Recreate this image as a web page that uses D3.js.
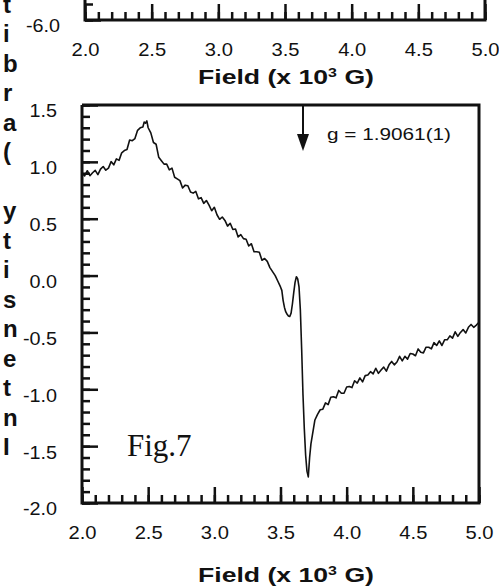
<!DOCTYPE html>
<html>
<head>
<meta charset="utf-8">
<script src="https://cdn.jsdelivr.net/npm/d3@7"></script>
<style>
  body { margin: 0; background: #fff; }
  svg { display: block; }
</style>
</head>
<body>
<div class="box"></div>
<script>
// DATA

const fieldTicks = [2.0, 2.5, 3.0, 3.5, 4.0, 4.5, 5.0];
const intensityTicks = [-2.0, -1.5, -1.0, -0.5, 0.0, 0.5, 1.0, 1.5];
const upperPanelTicks = [-6.0];
const titleParts = ['Field (x 10', '3', ' G)'];
const yLabel = 'Intensity (arbit';
const gLabel = 'g = 1.9061(1)';
const gField = 3.67;
const figLabel = 'Fig.7';

// EPR trace [field (x10^3 G), intensity]
const spectrum = [
  [2.00,0.900],[2.02,0.876],[2.04,0.922],[2.06,0.878],[2.08,0.904],[2.10,0.925],[2.12,0.888],[2.14,0.936],
  [2.16,0.959],[2.18,0.927],[2.20,0.945],[2.22,1.002],[2.24,0.974],[2.26,1.026],[2.28,1.013],[2.30,1.080],
  [2.32,1.099],[2.34,1.108],[2.36,1.192],[2.38,1.186],[2.40,1.205],[2.42,1.277],[2.44,1.299],[2.46,1.306],
  [2.47,1.350],[2.48,1.340],[2.49,1.360],[2.50,1.300],[2.52,1.255],[2.54,1.170],[2.56,1.155],[2.58,1.040],
  [2.60,1.010],[2.62,0.980],[2.64,0.980],[2.66,0.930],[2.68,0.945],[2.70,0.865],[2.72,0.850],[2.74,0.835],
  [2.76,0.770],[2.78,0.795],[2.80,0.790],[2.82,0.735],[2.84,0.725],[2.86,0.740],[2.88,0.675],[2.90,0.685],
  [2.92,0.635],[2.94,0.660],[2.96,0.620],[2.98,0.570],[3.00,0.600],[3.02,0.535],[3.04,0.495],[3.06,0.515],
  [3.08,0.485],[3.10,0.435],[3.12,0.460],[3.14,0.405],[3.16,0.410],[3.18,0.340],[3.20,0.360],[3.22,0.325],
  [3.24,0.320],[3.26,0.260],[3.28,0.280],[3.30,0.210],[3.32,0.210],[3.34,0.205],[3.36,0.135],[3.38,0.150],
  [3.40,0.125],[3.42,0.070],[3.44,0.035],[3.46,0.000],[3.48,-0.05],[3.50,-0.10],[3.51,-0.13],[3.52,-0.22],
  [3.53,-0.28],[3.54,-0.32],[3.55,-0.34],[3.56,-0.355],[3.57,-0.36],[3.58,-0.33],[3.59,-0.25],[3.60,-0.15],
  [3.61,-0.06],[3.62,-0.01],[3.63,-0.03],[3.64,-0.10],[3.65,-0.30],[3.66,-0.65],[3.67,-1.05],[3.68,-1.35],
  [3.69,-1.58],[3.70,-1.72],[3.71,-1.77],[3.72,-1.60],[3.73,-1.48],[3.74,-1.41],[3.75,-1.34],[3.76,-1.27],
  [3.78,-1.22],[3.80,-1.18],[3.82,-1.175],[3.84,-1.120],[3.86,-1.135],[3.88,-1.070],[3.90,-1.065],[3.92,-1.075],
  [3.94,-1.010],[3.96,-1.035],[3.98,-1.035],[4.00,-0.980],[4.02,-0.975],[4.04,-0.985],[4.06,-0.925],[4.08,-0.945],
  [4.10,-0.900],[4.12,-0.935],[4.14,-0.880],[4.16,-0.875],[4.18,-0.845],[4.20,-0.865],[4.22,-0.815],[4.24,-0.860],
  [4.26,-0.830],[4.28,-0.805],[4.30,-0.840],[4.32,-0.785],[4.34,-0.755],[4.36,-0.785],[4.38,-0.760],[4.40,-0.710],
  [4.42,-0.750],[4.44,-0.710],[4.46,-0.735],[4.48,-0.685],[4.50,-0.690],[4.52,-0.705],[4.54,-0.645],[4.56,-0.675],
  [4.58,-0.680],[4.60,-0.630],[4.62,-0.630],[4.64,-0.645],[4.66,-0.590],[4.68,-0.615],[4.70,-0.575],[4.72,-0.615],
  [4.74,-0.565],[4.76,-0.565],[4.78,-0.530],[4.80,-0.550],[4.82,-0.495],[4.84,-0.535],[4.86,-0.500],[4.88,-0.475],
  [4.90,-0.505],[4.92,-0.455],[4.94,-0.430],[4.96,-0.455],[4.98,-0.435],[5.00,-0.410]
];

// SETUP

const dims = {width: 499, height: 586};
const ink = '#111';
const sans = '"Liberation Sans", Arial, sans-serif';
const fmt = d => d.toFixed(1); // plain hyphen minus, like the original

const svg = d3.select('.box')
              .append('svg')
              .attr('width', dims.width)
              .attr('height', dims.height);

// main panel scales
const x = d3.scaleLinear().domain([2, 5]).range([82, 479]);
const y = d3.scaleLinear().domain([-2, 1.5]).range([503, 105]);

// upper panel (cut off by the page edge)
const xTop = d3.scaleLinear().domain([2, 5]).range([85, 485]);
const yTop = d3.scaleLinear().domain([-6.0, -5.9]).range([20, 4]);

// widen tick text a bit, the original font is broad
const stretch = (sel, k) => sel.each(function(){
  const w = this.getComputedTextLength();
  d3.select(this).attr('textLength', w * k).attr('lengthAdjust', 'spacingAndGlyphs');
});

const styleAxis = g => {
  g.select('.domain').remove();
  g.selectAll('line').attr('stroke', ink).attr('stroke-width', 2.5);
  g.selectAll('text').attr('fill', ink).style('font', `18px ${sans}`);
};

// minor ticks every 0.1
const minorTicks = s => {
  const [a, b] = s.domain();
  return d3.ticks(a, b, Math.round((b - a) / 0.1));
};

const drawPanel = (xs, ys, yMajor, top) => {
  const bottom = ys.range()[0];
  const left = xs.range()[0];
  const right = xs.range()[1];

  svg.append('g')
     .attr('transform', `translate(0,${bottom})`)
     .call(d3.axisBottom(xs).tickValues(minorTicks(xs)).tickSize(-8).tickFormat(''))
     .call(styleAxis);
  svg.append('g')
     .attr('transform', `translate(${left},0)`)
     .call(d3.axisLeft(ys).tickValues(minorTicks(ys)).tickSize(-8).tickFormat(''))
     .call(styleAxis);

  // major ticks + labels
  svg.append('g')
     .attr('transform', `translate(0,${bottom})`)
     .call(d3.axisBottom(xs).tickValues(fieldTicks).tickSize(-16).tickPadding(23).tickFormat(fmt))
     .call(styleAxis)
     .selectAll('text').call(stretch, 1.12);
  svg.append('g')
     .attr('transform', `translate(${left},0)`)
     .call(d3.axisLeft(ys).tickValues(yMajor).tickSize(-16).tickPadding(25).tickFormat(fmt))
     .call(styleAxis)
     .selectAll('text').attr('dy', '0.66em').call(stretch, 1.1);

  // frame
  svg.append('path')
     .attr('d', `M${left},${top}V${bottom}H${right}V${top}` + (top > 0 ? `H${left}` : ''))
     .attr('fill', 'none')
     .attr('stroke', ink)
     .attr('stroke-width', 3);
};

const drawTitle = (baseline) => {
  const t = svg.append('text')
               .attr('x', 286)
               .attr('y', baseline)
               .attr('text-anchor', 'middle')
               .attr('fill', ink)
               .style('font', `bold 20px ${sans}`)
               .attr('textLength', 176)
               .attr('lengthAdjust', 'spacingAndGlyphs');
  t.append('tspan').text(titleParts[0]);
  t.append('tspan').attr('dy', -7).style('font-size', '12px').text(titleParts[1]);
  t.append('tspan').attr('dy', 7).text(titleParts[2]);
};

// upper panel remnant
drawPanel(xTop, yTop, upperPanelTicks, -5);
drawTitle(84);

// main panel
drawPanel(x, y, intensityTicks, 105);
drawTitle(582);

// trace
const line = d3.line()
               .x(d => x(d[0]))
               .y(d => y(d[1]));

svg.append('path')
   .datum(spectrum)
   .attr('d', line)
   .attr('fill', 'none')
   .attr('stroke', ink)
   .attr('stroke-width', 1.6)
   .attr('stroke-linejoin', 'round');

// g-value arrow
const ax = x(gField);
svg.append('line')
   .attr('x1', ax).attr('x2', ax)
   .attr('y1', y(1.5)).attr('y2', 138)
   .attr('stroke', ink)
   .attr('stroke-width', 2);
svg.append('path')
   .attr('d', `M${ax - 6},134L${ax + 6},134L${ax},151Z`)
   .attr('fill', ink);

svg.append('text')
   .attr('x', 327)
   .attr('y', 140)
   .attr('fill', ink)
   .style('font', `17px ${sans}`)
   .attr('textLength', 124)
   .attr('lengthAdjust', 'spacingAndGlyphs')
   .text(gLabel);

svg.append('text')
   .attr('x', 127)
   .attr('y', 456)
   .attr('fill', ink)
   .style('font', '31px "Liberation Serif", "Times New Roman", serif')
   .text(figLabel);

// y label: upright letters stacked bottom to top (top letters run off the page, as in the original)
svg.append('g')
   .selectAll('text')
   .data(yLabel.split(''))
   .enter()
   .append('text')
   .attr('x', 3)
   .attr('y', (d, i) => 455 - i * 29.5)
   .attr('fill', ink)
   .style('font', `bold 24px ${sans}`)
   .text(d => d);
</script>
</body>
</html>
